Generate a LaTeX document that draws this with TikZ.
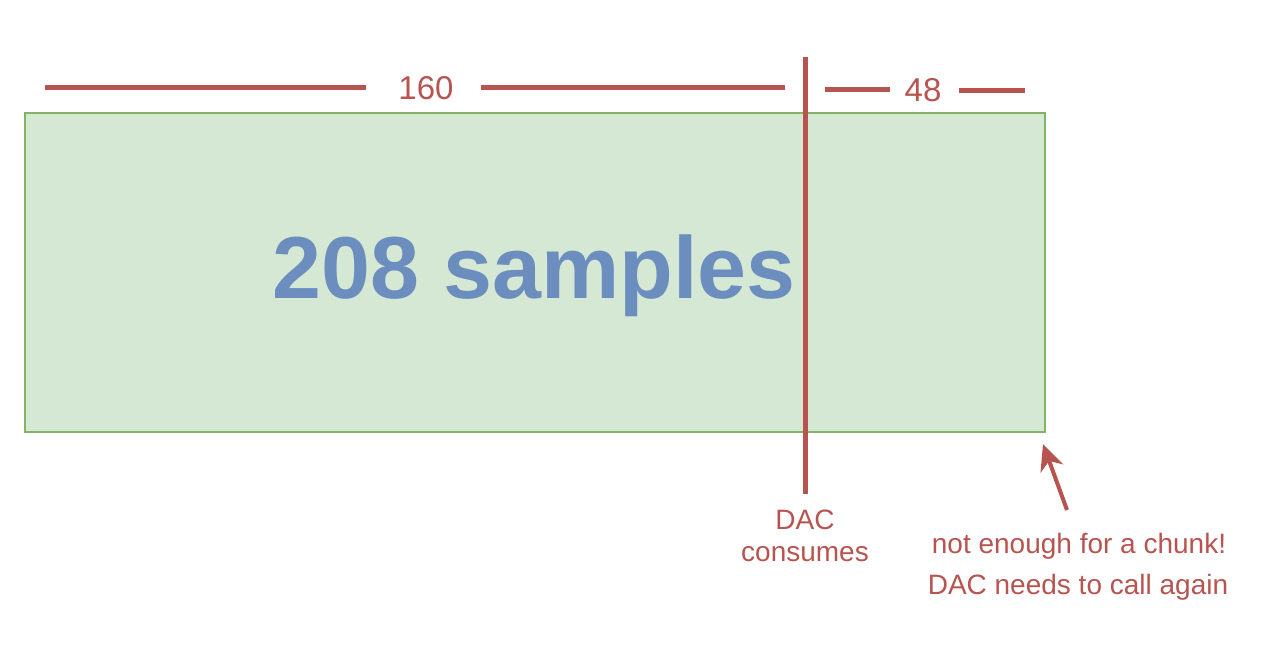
\documentclass[tikz,border=0pt]{standalone}
\usepackage{fontspec}
\setmainfont{Liberation Sans}
\usetikzlibrary{arrows.meta}
\definecolor{dimred}{HTML}{B85450}
\definecolor{bufgreen}{HTML}{D5E8D4}
\definecolor{bufedge}{HTML}{82B366}
\definecolor{textblue}{HTML}{6C8EBF}
\tikzset{
	dimline/.style={draw=dimred, line width=5pt},
	dimlabel/.style={text=dimred, font=\fontsize{33}{36}\selectfont, inner sep=0pt},
	notelabel/.style={text=dimred, font=\fontsize{28}{32}\selectfont, inner sep=0pt, align=center}
}
\begin{document}
\begin{tikzpicture}[x=1pt,y=-1pt]
	\useasboundingbox (0,0) rectangle (1262,660);
	\draw[draw=bufedge, fill=bufgreen, line width=1.5pt] (25,113) rectangle (1045,432);
	\draw (534,276) node[text=textblue, font=\bfseries\fontsize{88}{96}\selectfont, inner sep=0pt](buf){208 samples};
	\draw (45,88) coordinate(a-1) (366,88) coordinate(a-2) (481,88) coordinate(a-3) (785,88) coordinate(a-4);
	\draw (825,90) coordinate(b-1) (890,90) coordinate(b-2) (959,91) coordinate(b-3) (1025,91) coordinate(b-4);
	\draw[dimline] (a-1) -- (a-2) (a-3) -- (a-4) (b-1) -- (b-2) (b-3) -- (b-4);
	\draw (426,88) node[dimlabel](n-160){160} (923,90) node[dimlabel](n-48){48};
	\draw (805,57) coordinate(dac-top) (805,494) coordinate(dac-bot);
	\draw[dimline] (dac-top) -- (dac-bot);
	\draw (805,536) node[notelabel](dac){DAC\\consumes};
	\draw (1079,546) node[notelabel](short){not enough for a chunk!};
	\draw (1078,587) node[notelabel](again){DAC needs to call again};
	\draw (1067,510) coordinate(arr-s) (1043,444) coordinate(arr-e);
	\draw[dimred, line width=4pt, -{Stealth[length=26pt,width=24pt,inset=8pt]}] (arr-s) -- (arr-e);
\end{tikzpicture}
\end{document}
